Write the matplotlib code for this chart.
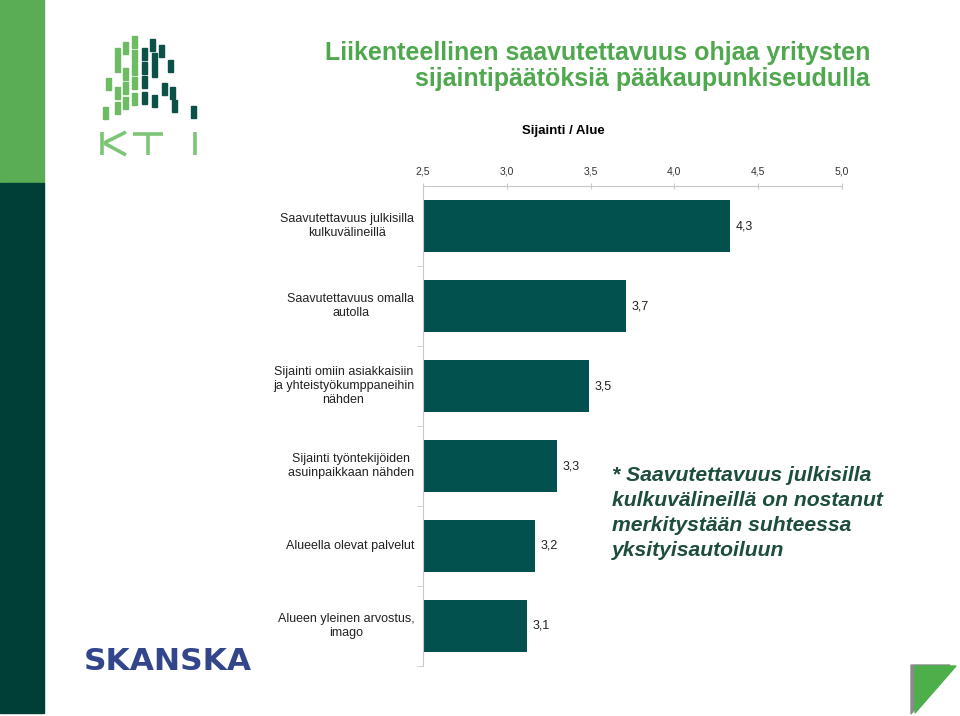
import matplotlib.pyplot as plt
from matplotlib.patches import Rectangle, Polygon
from matplotlib.lines import Line2D

categories = [
    "Saavutettavuus julkisilla\nkulkuvälineillä",
    "Saavutettavuus omalla\nautolla",
    "Sijainti omiin asiakkaisiin\nja yhteistyökumppaneihin\nnähden",
    "Sijainti työntekijöiden\nasuinpaikkaan nähden",
    "Alueella olevat palvelut",
    "Alueen yleinen arvostus,\nimago",
]
values = [4.33, 3.71, 3.49, 3.30, 3.17, 3.12]
value_labels = ["4,3", "3,7", "3,5", "3,3", "3,2", "3,1"]
x_ticks = [2.5, 3.0, 3.5, 4.0, 4.5, 5.0]
x_tick_labels = ["2,5", "3,0", "3,5", "4,0", "4,5", "5,0"]

title = "Liikenteellinen saavutettavuus ohjaa yritysten\nsijaintipäätöksiä pääkaupunkiseudulla"
subtitle = "Sijainti / Alue"
note = "* Saavutettavuus julkisilla\nkulkuvälineillä on nostanut\nmerkitystään suhteessa\nyksityisautoiluun"

plt.rcParams["font.family"] = ["Liberation Sans", "DejaVu Sans"]

W, H = 960, 716
fig = plt.figure(figsize=(W / 100, H / 100), dpi=100)
fig.patch.set_facecolor("white")

def fx(px):
    return px / W

def fy(py):
    return 1 - py / H

# left band
fig.patches.append(Rectangle((0, fy(183)), fx(44), 183 / H, transform=fig.transFigure,
                             color="#5aad55", zorder=0))
fig.patches.append(Rectangle((0, fy(713)), fx(44), 530 / H, transform=fig.transFigure,
                             color="#003e38", zorder=0))

# KTI logo (simplified): cells as (left x, top y) in pixels
light = "#6dbb63"
dark = "#0b5148"
light_cells = [
    (132, 36), (123, 42), (115, 48),
    (132, 50), (115, 60),
    (132, 63), (123, 68), (106, 78),
    (132, 77), (123, 82), (115, 87),
    (132, 93), (123, 97), (115, 102), (103, 107),
]
dark_cells = [
    (150, 39), (159, 45), (142, 48), (152, 53), (168, 60),
    (142, 62), (152, 65), (142, 76), (162, 83), (170, 87),
    (142, 92), (152, 95), (172, 100), (191, 106),
]
for cx, cy in light_cells:
    fig.patches.append(Rectangle((fx(cx), fy(cy + 12)), fx(5), 12 / H,
                                 transform=fig.transFigure, color=light))
for cx, cy in dark_cells:
    fig.patches.append(Rectangle((fx(cx), fy(cy + 12)), fx(5), 12 / H,
                                 transform=fig.transFigure, color=dark))
kti_green = "#7cc576"
kti_strokes = [
    [(102, 132), (102, 155)],
    [(104, 143), (126, 132)],
    [(104, 143), (126, 155)],
    [(133, 134), (163, 134)],
    [(148, 134), (148, 155)],
    [(195, 132), (195, 155)],
]
for (x0, y0), (x1, y1) in kti_strokes:
    fig.lines.append(Line2D([fx(x0), fx(x1)], [fy(y0), fy(y1)], transform=fig.transFigure,
                            color=kti_green, linewidth=2.6, solid_capstyle="butt"))

# SKANSKA logo
fig.text(fx(168), fy(662), "SKANSKA", ha="center", va="center", fontsize=22.5,
         color="#33468c", fontweight="heavy", family="DejaVu Sans")

# corner triangles
fig.patches.append(Polygon([(fx(911), fy(665)), (fx(950), fy(665)), (fx(911), fy(714))],
                           closed=True, transform=fig.transFigure, color="#8a8a8a"))
fig.patches.append(Polygon([(fx(915), fy(666)), (fx(956), fy(666)), (fx(915), fy(713))],
                           closed=True, transform=fig.transFigure, color="#4caf4a"))

# titles
fig.text(fx(870), fy(66), title, ha="right", va="center", fontsize=18,
         fontweight="bold", color="#4fa84d", linespacing=1.07)
fig.text(fx(563), fy(131), subtitle, ha="center", va="center", fontsize=9.5,
         fontweight="bold", color="black")

# chart
ax = fig.add_axes([fx(423), fy(666), fx(842) - fx(423), 480 / H])
y = list(range(len(categories)))
bars = ax.barh(y, [v - 2.5 for v in values], left=2.5, height=0.65, color="#02514f")
ax.bar_label(bars, labels=value_labels, padding=4, fontsize=9, color="#222222")

ax.set_xlim(2.5, 5.0)
ax.set_ylim(5.5, -0.5)
ax.xaxis.tick_top()
ax.set_xticks(x_ticks)
ax.set_xticklabels(x_tick_labels)
ax.tick_params(axis="x", direction="inout", length=5, width=0.8, color="#c8c8c8",
               labelsize=7.5, labelcolor="#333333", pad=4)

# category labels drawn as text so the line spacing can be set
ax.set_yticks(y)
ax.set_yticklabels([])
for i, label in enumerate(categories):
    ax.text(-0.021, i, label, transform=ax.get_yaxis_transform(), ha="right", va="center",
            multialignment="center", linespacing=1.27, fontsize=9, color="#222222")
ax.set_yticks([i + 0.5 for i in y], minor=True)
ax.tick_params(axis="y", which="major", length=0)
ax.tick_params(axis="y", which="minor", direction="out", length=4, color="#c8c8c8")

for side in ["right", "bottom"]:
    ax.spines[side].set_visible(False)
for side in ["top", "left"]:
    ax.spines[side].set_color("#c8c8c8")
    ax.spines[side].set_linewidth(0.8)

fig.text(fx(612), fy(513), note, ha="left", va="center", fontsize=15.2,
         fontweight="bold", fontstyle="italic", color="#1d4d3c", linespacing=1.4)

fig.savefig("out.png", dpi=100)
